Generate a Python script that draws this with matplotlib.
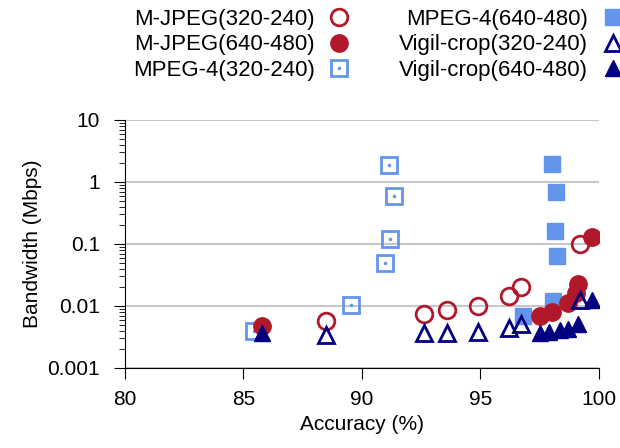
import numpy as np
import matplotlib
matplotlib.use('Agg')
import matplotlib.pyplot as plt
from matplotlib.legend_handler import HandlerTuple

plt.rcParams['font.family'] = ['Liberation Sans', 'DejaVu Sans']
plt.rcParams['font.size'] = 15

# data
mjpeg_320_x = [88.5, 92.6, 93.6, 94.9, 96.2, 96.7, 99.2]
mjpeg_320_y = [0.0058, 0.0074, 0.0086, 0.0101, 0.0147, 0.0204, 0.099]
mjpeg_640_x = [85.8, 97.5, 98.0, 98.7, 99.05, 99.1, 99.7]
mjpeg_640_y = [0.0048, 0.0069, 0.0081, 0.011, 0.016, 0.023, 0.131]
mpeg4_320_x = [85.45, 89.55, 90.95, 91.2, 91.35, 91.15]
mpeg4_320_y = [0.0039, 0.0104, 0.050, 0.119, 0.60, 1.86]
mpeg4_640_x = [96.8, 98.07, 98.24, 98.16, 98.2, 98.03]
mpeg4_640_y = [0.0069, 0.0119, 0.063, 0.159, 0.68, 1.93]
vigil_320_x = [88.5, 92.6, 93.6, 94.9, 96.2, 96.7, 99.2]
vigil_320_y = [0.0034, 0.0036, 0.0037, 0.0038, 0.0044, 0.0052, 0.0125]
vigil_640_x = [85.8, 97.5, 97.9, 98.35, 98.7, 99.1, 99.7]
vigil_640_y = [0.0036, 0.0036, 0.0038, 0.0041, 0.0043, 0.0052, 0.0125]

red = '#b2182b'
blue = '#6495ed'
navy = '#000080'
ms = 12

fig = plt.figure(figsize=(6.2, 4.48), dpi=100)
ax = fig.add_axes([0.2016, 0.1786, 0.7645, 0.5536])

sq, = ax.plot(mpeg4_320_x, mpeg4_320_y, 's', ms=ms - 0.5, mfc='none', mec=blue, mew=2, ls='none')
dot, = ax.plot(mpeg4_320_x, mpeg4_320_y, 'o', ms=1.5, color=blue, ls='none')
sqf, = ax.plot(mpeg4_640_x, mpeg4_640_y, 's', ms=ms, color=blue, ls='none')
c1, = ax.plot(mjpeg_320_x, mjpeg_320_y, 'o', ms=ms, mfc='none', mec=red, mew=2, ls='none')
c2, = ax.plot(mjpeg_640_x, mjpeg_640_y, 'o', ms=ms + 0.5, color=red, ls='none')
t1, = ax.plot(vigil_320_x, vigil_320_y, '^', ms=ms - 1, mfc='none', mec=navy, mew=2, ls='none')
t2, = ax.plot(vigil_640_x, vigil_640_y, '^', ms=ms, color=navy, ls='none')

ax.set_yscale('log')
ax.set_xlim(80, 100)
ax.set_ylim(0.001, 10)
ax.set_xticks([80, 85, 90, 95, 100])
ax.set_yticks([0.001, 0.01, 0.1, 1, 10])
ax.set_yticklabels(['0.001', '0.01', '0.1', '1', '10'])
ax.grid(axis='y', which='major', color='#c8c8c8', lw=1.5)
ax.set_axisbelow(True)
for s in ['top', 'right']:
    ax.spines[s].set_visible(False)
ax.tick_params(axis='y', which='major', direction='out', length=8, pad=10)
ax.tick_params(axis='y', which='minor', direction='out', length=4)
ax.tick_params(axis='x', direction='out', length=8, pad=8)
ax.set_xlabel('Accuracy (%)')
ax.set_ylabel('Bandwidth (Mbps)')

handles = [c1, c2, (sq, dot), sqf, t1, t2]
labels = ['M-JPEG(320-240)', 'M-JPEG(640-480)', 'MPEG-4(320-240)',
          'MPEG-4(640-480)', 'Vigil-crop(320-240)', 'Vigil-crop(640-480)']
fig.legend(handles, labels, ncol=2, loc='upper center', bbox_to_anchor=(0.61, 1.015),
           markerfirst=False, frameon=False, handlelength=1.0, handletextpad=0.6,
           labelspacing=0.2, columnspacing=2.2, borderpad=0.2, fontsize=16,
           handler_map={tuple: HandlerTuple(ndivide=1)})

fig.savefig('out.png', dpi=100)
